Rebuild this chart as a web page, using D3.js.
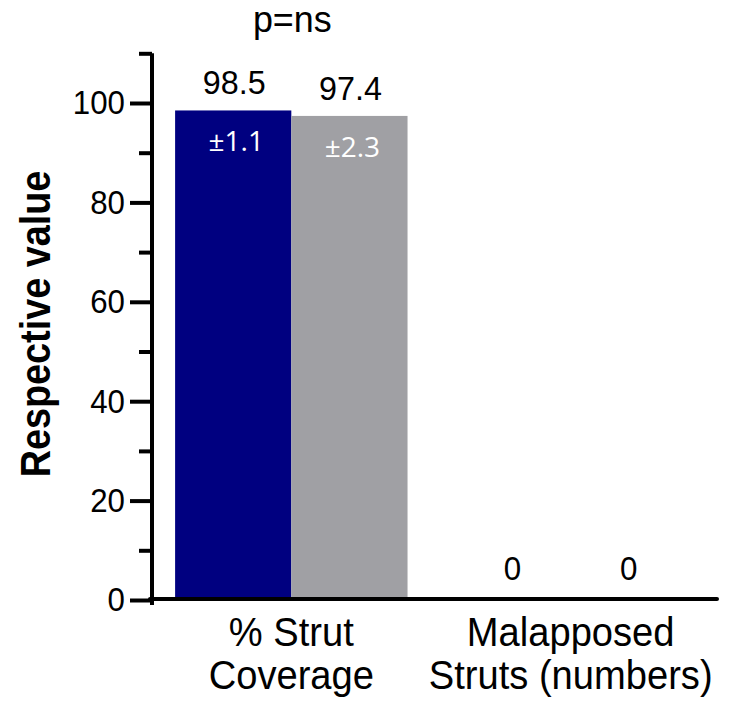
<!DOCTYPE html>
<html>
<head>
<meta charset="utf-8">
<script src="https://cdn.jsdelivr.net/npm/d3@7"></script>
<style>
body { margin:0; background:#fff; }
text { font-family: "Liberation Sans", Arial, sans-serif; }
</style>
</head>
<body>
<div id="chart"></div>
<script>
var categories = ["% Strut|Coverage", "Malapposed|Struts (numbers)"];
var groups = ["A", "B"];
var values = [[98.5, 97.4], [0, 0]];
var errors = [["±1.1", "±2.3"], [null, null]];
var yTicks = [0, 20, 40, 60, 80, 100];
var yMinor = [10, 30, 50, 70, 90, 110];
var colors = ["#000080", "#a0a0a4"];

var svg_width = 746, svg_height = 704;
var mysvg = d3.select("#chart").append("svg")
  .attr("width", svg_width).attr("height", svg_height);

var x = d3.scaleBand().domain(categories).range([152, 709]).paddingInner(0.165).paddingOuter(0.083);
var xs = d3.scaleBand().domain(groups).range([0, x.bandwidth()]);
var y = d3.scaleLinear().domain([0, 100]).range([600, 103]);

// text helper, slightly condensed like the original
function label(parent, px, py, txt, size, sx) {
  return parent.append("text")
    .attr("transform", "translate(" + px + "," + py + ") scale(" + (sx || 1) + ",1)")
    .attr("text-anchor", "middle")
    .attr("font-size", size)
    .text(txt);
}

// bars
var g = mysvg.selectAll("g.cat").data(categories).enter().append("g")
  .attr("class", "cat")
  .attr("transform", function(d){ return "translate(" + x(d) + ",0)"; });
g.each(function(c, i){
  var gg = d3.select(this);
  groups.forEach(function(s, j){
    var v = values[i][j];
    var cx = xs(s) + xs.bandwidth()/2;
    gg.append("rect")
      .attr("x", xs(s)).attr("width", xs.bandwidth())
      .attr("y", y(v)).attr("height", y(0) - y(v))
      .attr("fill", colors[j]);
    label(gg, cx + 1, y(v) - (v > 0 ? 16 : 20), v, v > 0 ? 34 : 33, 0.95);
    if (errors[i][j]) {
      label(gg, cx + 3, y(v) + 41, errors[i][j], 28)
        .attr("fill", "#fff")
        .style("font-family", "'Open Sans', sans-serif");
    }
  });
});

// y axis
var yAxis = mysvg.append("g").attr("transform", "translate(152,0)")
  .call(d3.axisLeft(y).tickValues(yTicks).tickSize(22).tickPadding(5));
mysvg.append("g").attr("transform", "translate(152,0)")
  .call(d3.axisLeft(y).tickValues(yMinor).tickSize(13).tickFormat(""))
  .select(".domain").remove();
mysvg.selectAll(".tick line").attr("stroke-width", 4);
yAxis.select(".domain").attr("stroke-width", 4).attr("d", "M0," + y(110) + "V" + (y(0) + 5));
yAxis.selectAll(".tick text")
  .attr("font-size", 34).attr("fill", "#000")
  .style("font-family", "'Liberation Sans', Arial, sans-serif")
  .attr("transform", "scale(0.92,1)")
  .attr("x", -27 / 0.92);

// x axis
mysvg.append("line")
  .attr("x1", 150).attr("x2", 717).attr("y1", y(0) - 1).attr("y2", y(0) - 1)
  .attr("stroke", "#000").attr("stroke-width", 4).attr("stroke-linecap", "round");

// category labels
categories.forEach(function(c, i){
  c.split("|").forEach(function(line, k){
    label(mysvg, x(c) + x.bandwidth()/2 + (i ? 1 : 0), 646 + k * 43, line, 41, 0.93);
  });
});

// p value
label(mysvg, x(categories[0]) + x.bandwidth()/2 + 1, 32, "p=ns", 37, 0.97);

// y label
mysvg.append("text")
  .attr("transform", "translate(50,324) rotate(-90) scale(0.9,1)")
  .attr("text-anchor", "middle")
  .attr("font-size", 42).attr("font-weight", "bold")
  .text("Respective value");
</script>
</body>
</html>
